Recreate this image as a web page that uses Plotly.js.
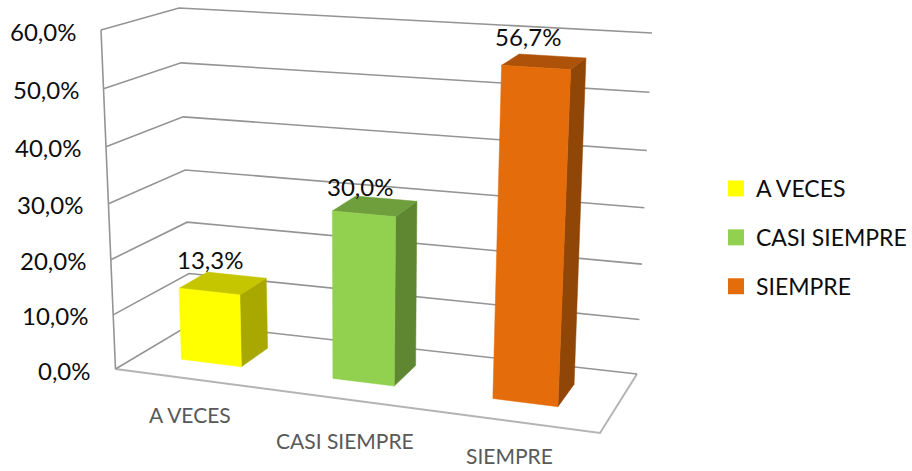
<!DOCTYPE html>
<html><head><meta charset="utf-8">
<script src="https://cdn.plot.ly/plotly-3.0.1.min.js"></script>
<style>html,body{margin:0;padding:0;background:#fff}#c{width:912px;height:471px}</style>
</head><body><div id="c"></div>
<script>
const categories = ["A VECES", "CASI SIEMPRE", "SIEMPRE"];
const values = [13.3, 30.0, 56.7];
const valueLabels = ["13,3%", "30,0%", "56,7%"];
const tickValues = [0, 10, 20, 30, 40, 50, 60];
const tickLabels = ["0,0%", "10,0%", "20,0%", "30,0%", "40,0%", "50,0%", "60,0%"];

const frontColors = ["#FFFF00", "#92D050", "#E46C0A"];
const topColors = ["#C6C600", "#6F9E3D", "#AD5208"];
const sideColors = ["#A8A800", "#5F8731", "#8F4606"];
const barU = [[0.087, 0.214], [0.408, 0.538], [0.747, 0.885]];
const barV = [0.33, 0.72];
const catDx = [2, 0, -1], catDy = [36, 41, 34];
const valDy = [-18, -15, -21];

// perspective frame of the 3D box (pixel corners of floor and of the 60% plane)
const floorQ = {fl:[115.5,369], fr:[600,433], bl:[191,324], br:[637,374]};
const topQ = {fl:[101,30], fr:[618,62], bl:[179,8], br:[652,33]};
const MAXV = 60;
const lerp = (a,b,t)=>a+(b-a)*t;
function bil(q,u,v,i){return lerp(lerp(q.fl[i],q.fr[i],u),lerp(q.bl[i],q.br[i],u),v);}
function P(u,v,h){let t=h/MAXV;t=t-0.05*t*(1-t);return [lerp(bil(floorQ,u,v,0),bil(topQ,u,v,0),t),lerp(bil(floorQ,u,v,1),bil(topQ,u,v,1),t)];}
function line(pts,color,width){return {type:"scatter",mode:"lines",x:pts.map(p=>p[0]),y:pts.map(p=>p[1]),line:{color:color,width:width},showlegend:false,hoverinfo:"skip"};}
function face(pts,color){const c=pts.concat([pts[0]]);return {type:"scatter",mode:"lines",x:c.map(p=>p[0]),y:c.map(p=>p[1]),fill:"toself",fillcolor:color,line:{color:color,width:0.5},showlegend:false,hoverinfo:"skip"};}

const traces=[];
traces.push(line([P(0,0,0),P(1,0,0),P(1,1,0)],"#b4b4b4",2));
tickValues.forEach(h=>{
  traces.push(line([P(0,0,h),P(0,1,h),P(1,1,h)],"#949494",1.6));
});
traces.push(line([P(0,0,0),P(0,0,MAXV)],"#949494",1.6));
values.forEach((val,i)=>{
  const [u0,u1]=barU[i],[v0,v1]=barV;
  traces.push(face([P(u1,v0,0),P(u1,v1,0),P(u1,v1,val),P(u1,v0,val)],sideColors[i]));
  traces.push(face([P(u0,v0,val),P(u1,v0,val),P(u1,v1,val),P(u0,v1,val)],topColors[i]));
  traces.push(face([P(u0,v0,0),P(u1,v0,0),P(u1,v0,val),P(u0,v0,val)],frontColors[i]));
});
categories.forEach((c,i)=>{
  traces.push({type:"scatter",mode:"markers",x:[-50],y:[-50],name:c,legendgroup:c,
    marker:{symbol:"square",size:16,color:frontColors[i]},hoverinfo:"skip"});
});

const FONT="Lato, 'Open Sans', sans-serif";
const annotations=[];
tickValues.forEach((h,i)=>{
  const p=P(0,0,h);
  annotations.push({x:p[0]-23,y:p[1]+1,text:tickLabels[i],xanchor:"right",yanchor:"middle",showarrow:false,font:{family:FONT,size:24,color:"#0d0d0d"},xref:"x",yref:"y"});
});
values.forEach((val,i)=>{
  const u=(barU[i][0]+barU[i][1])/2;
  const p=P(u,0.66,val);
  annotations.push({x:p[0]-22.5,y:p[1]+valDy[i],text:valueLabels[i],xanchor:"center",yanchor:"middle",showarrow:false,font:{family:FONT,size:24,color:"#0d0d0d"},xref:"x",yref:"y"});
});
categories.forEach((c,i)=>{
  const u=(barU[i][0]+barU[i][1])/2;
  const p=P(u,0,0);
  annotations.push({x:p[0]+catDx[i],y:p[1]+catDy[i],text:c,xanchor:"center",yanchor:"middle",showarrow:false,font:{family:FONT,size:21,color:"#595959"},xref:"x",yref:"y"});
});

Plotly.newPlot("c",traces,{
  width:912,height:471,margin:{l:0,r:0,t:0,b:0},paper_bgcolor:"#fff",plot_bgcolor:"#fff",
  xaxis:{range:[0,912],visible:false,fixedrange:true},
  yaxis:{range:[471,0],visible:false,fixedrange:true},
  showlegend:true,
  legend:{x:716/912,y:1-167/471,xanchor:"left",yanchor:"top",font:{family:FONT,size:23,color:"#0d0d0d"},tracegroupgap:16,bgcolor:"rgba(0,0,0,0)",traceorder:"grouped"},
  annotations:annotations
},{displayModeBar:false,staticPlot:true});
</script></body></html>
